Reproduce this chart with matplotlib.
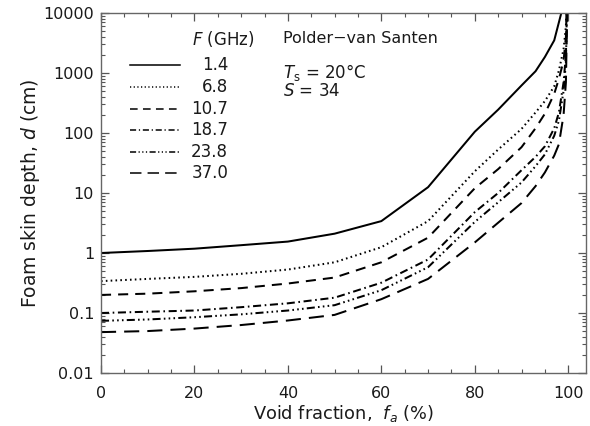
import matplotlib
matplotlib.use("Agg")
import matplotlib.pyplot as plt
from matplotlib.ticker import FixedLocator, FixedFormatter, LogLocator, NullFormatter, MultipleLocator
from matplotlib.lines import Line2D

# ---- data ----
void_fraction = [0, 10, 20, 30, 40, 50, 60, 70, 80, 85, 90, 93, 95, 97, 98, 99, 99.5, 100]
d_1_4 = [1.0, 1.08, 1.18, 1.35, 1.55, 2.1, 3.4, 12.5, 105, 245, 620, 1070, 1850, 3500, 7000, 14000, 30000, 1e5]
d_6_8 = [0.34, 0.37, 0.40, 0.45, 0.53, 0.70, 1.25, 3.4, 23, 53, 117, 220, 340, 600, 1100, 2500, 6000, 1e5]
d_10_7 = [0.20, 0.21, 0.23, 0.26, 0.31, 0.39, 0.70, 1.8, 12, 25, 58, 120, 210, 450, 800, 1600, 4000, 1e5]
d_18_7 = [0.10, 0.105, 0.11, 0.125, 0.145, 0.18, 0.32, 0.78, 4.8, 10, 24, 40, 60, 120, 220, 700, 2000, 1e5]
d_23_8 = [0.074, 0.078, 0.085, 0.095, 0.11, 0.135, 0.24, 0.58, 3.3, 7, 15, 28, 44, 90, 160, 500, 1500, 1e5]
d_37_0 = [0.048, 0.05, 0.055, 0.063, 0.075, 0.093, 0.17, 0.37, 1.5, 3.2, 6.8, 13, 22, 42, 65, 200, 700, 1e5]
freq_labels = ["1.4", "6.8", "10.7", "18.7", "23.8", "37.0"]
series = [d_1_4, d_6_8, d_10_7, d_18_7, d_23_8, d_37_0]
y_tick_values = [0.01, 0.1, 1, 10, 100, 1000, 10000]
y_tick_labels = ["0.01", "0.1", "1", "10", "100", "1000", "10000"]
x_tick_values = [0, 20, 40, 60, 80, 100]

# ---- styles ----
styles = [
    "-",
    (0, (0.8, 1.6)),
    (0, (5, 3.5)),
    (0, (4, 1.8, 0.8, 1.8)),
    (0, (4, 1.6, 0.8, 1.6, 0.8, 1.6, 0.8, 1.6)),
    (0, (7.5, 4)),
]

plt.rcParams["font.family"] = ["DejaVu Sans"]
plt.rcParams["mathtext.fontset"] = "dejavusans"
txt = "#1a1a1a"

fig = plt.figure(figsize=(5.9, 4.26), dpi=100)
ax = fig.add_axes([101 / 590, 53 / 426, 485 / 590, 360 / 426])

for vals, ls in zip(series, styles):
    ax.plot(void_fraction, vals, color="black", lw=1.45, ls=ls, solid_capstyle="butt", dash_capstyle="butt")

ax.set_yscale("log")
ax.set_ylim(0.01, 10000)
ax.set_xlim(0, 103.8)

ax.yaxis.set_major_locator(FixedLocator(y_tick_values))
ax.yaxis.set_major_formatter(FixedFormatter(y_tick_labels))
ax.yaxis.set_minor_locator(LogLocator(base=10, subs=range(2, 10), numticks=20))
ax.yaxis.set_minor_formatter(NullFormatter())
ax.xaxis.set_major_locator(FixedLocator(x_tick_values))
ax.xaxis.set_minor_locator(MultipleLocator(5))

ax.tick_params(which="both", direction="in", top=True, right=True, colors="#555555",
               labelcolor=txt, labelsize=11.5)
ax.tick_params(which="major", length=6, width=0.9)
ax.tick_params(which="minor", length=3, width=0.8)
ax.tick_params(axis="x", which="major", pad=9)
ax.tick_params(axis="y", which="major", pad=5)
for s in ax.spines.values():
    s.set_color("#666666")
    s.set_linewidth(1.0)

ax.set_xlabel("Void fraction,  $f_a$ (%)", fontsize=12.8, color=txt, labelpad=2)
ax.set_ylabel("Foam skin depth, $d$ (cm)", fontsize=13.5, color=txt)
ax.yaxis.set_label_coords(-0.122, 0.5)

# ---- legend drawn in axes coordinates ----
row_y = [0.856, 0.794, 0.733, 0.675, 0.614, 0.556]
for yy, ls, lab in zip(row_y, styles, freq_labels):
    ax.add_line(Line2D([0.060, 0.163], [yy, yy], transform=ax.transAxes, color="black",
                       lw=1.1, ls=ls))
    ax.text(0.262, yy, lab, transform=ax.transAxes, ha="right", va="center", fontsize=12, color=txt)
ax.text(0.188, 0.928, "$F$ (GHz)", transform=ax.transAxes, ha="left", va="center", fontsize=12, color=txt)
ax.text(0.375, 0.928, "Polder\u2212van Santen", transform=ax.transAxes, ha="left", va="center",
        fontsize=11.5, color=txt)
ax.text(0.375, 0.836, "$T_{\\mathrm{s}}$ = 20\u00b0C", transform=ax.transAxes, ha="left", va="center",
        fontsize=12, color=txt)
ax.text(0.375, 0.782, "$S$ = 34", transform=ax.transAxes, ha="left", va="center", fontsize=12, color=txt)

fig.savefig("out.png", dpi=100)
